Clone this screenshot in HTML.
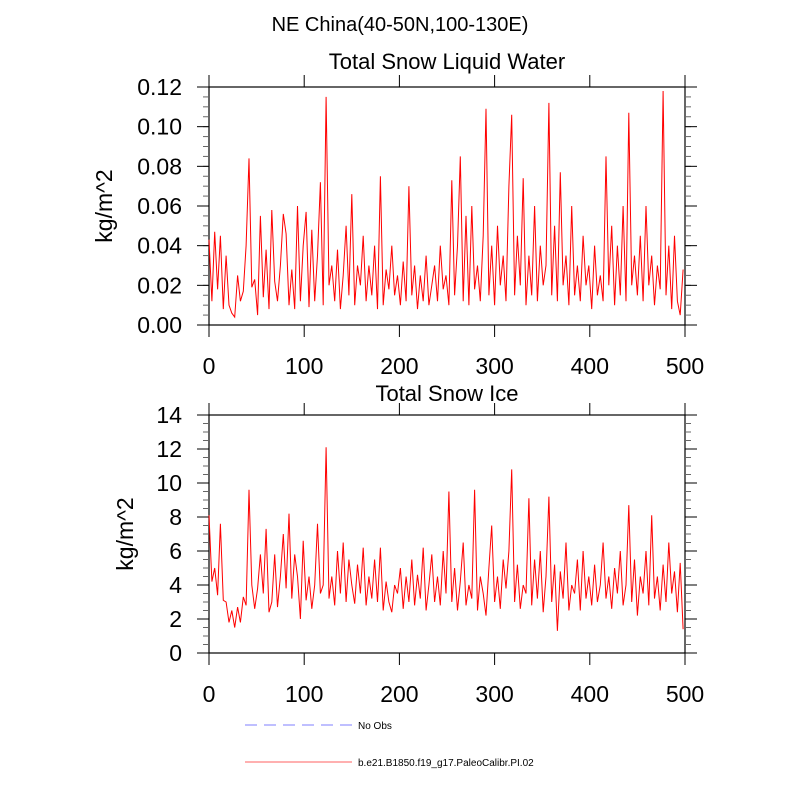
<!DOCTYPE html>
<html><head><meta charset="utf-8"><style>
body{margin:0;background:#fff;}
svg{font-family:"Liberation Sans",sans-serif;}
</style></head><body>
<svg id="chart" width="800" height="800">
<text x="400" y="31" font-size="20" text-anchor="middle">NE China(40-50N,100-130E)</text>
<text x="447" y="69" font-size="22" text-anchor="middle">Total Snow Liquid Water</text>
<text x="447" y="401" font-size="22" text-anchor="middle">Total Snow Ice</text>
<text transform="translate(112,206) rotate(-90)" font-size="23" text-anchor="middle">kg/m^2</text>
<text transform="translate(133,534) rotate(-90)" font-size="23" text-anchor="middle">kg/m^2</text>
<g>
<line x1="245" y1="725" x2="352" y2="725" stroke="#9999ff" stroke-width="1.2" stroke-dasharray="12,7"/>
<text x="358" y="729" font-size="10">No Obs</text>
<line x1="245" y1="762" x2="352" y2="762" stroke="#ff8080" stroke-width="1.2"/>
<text x="358" y="766" font-size="10">b.e21.B1850.f19_g17.PaleoCalibr.PI.02</text>
</g>
</svg>
<script>
const years=[];for(let i=0;i<167;i++)years.push(i*3);
const snowLiquid=[.043,.012,.047,.018,.045,.008,.035,.010,.006,.004,
.025,.012,.017,.040,.084,.019,.023,.005,.055,.014,
.038,.008,.058,.022,.012,.030,.056,.046,.010,.028,
.008,.060,.012,.040,.057,.009,.048,.012,.035,.072,
.010,.115,.020,.030,.012,.038,.008,.025,.050,.015,
.066,.010,.030,.020,.045,.012,.030,.015,.040,.008,
.075,.010,.028,.018,.040,.015,.025,.010,.032,.012,
.070,.015,.030,.008,.025,.012,.035,.010,.020,.030,
.012,.040,.018,.025,.010,.073,.015,.040,.085,.012,
.055,.010,.060,.018,.030,.012,.045,.109,.015,.040,
.010,.050,.020,.035,.012,.070,.106,.015,.045,.020,
.074,.010,.035,.015,.060,.012,.040,.020,.030,.112,
.015,.050,.012,.077,.020,.035,.010,.060,.015,.030,
.012,.045,.020,.030,.008,.040,.015,.025,.012,.085,
.020,.050,.010,.040,.015,.060,.012,.107,.020,.035,
.015,.045,.012,.060,.020,.035,.010,.030,.018,.118,
.015,.040,.008,.045,.012,.005,.028];
const snowIce=[8.1,4.2,5.0,3.4,7.6,3.1,3.0,1.8,2.5,1.5,
2.7,1.8,3.3,2.8,9.6,4.0,2.6,3.8,5.8,3.5,
7.3,2.4,3.0,5.8,2.7,4.5,7.0,3.8,8.2,3.2,
5.8,4.5,2.0,6.6,3.1,4.5,2.6,4.0,7.6,3.5,
4.0,12.1,3.2,4.5,2.8,6.0,3.5,6.5,3.0,5.5,
4.0,2.9,5.2,3.5,6.2,2.8,4.5,3.2,5.5,3.0,
6.2,2.5,4.2,3.0,2.4,4.0,3.5,5.0,2.6,4.5,
3.0,5.5,2.8,4.6,3.2,6.2,2.5,4.0,5.8,3.0,
4.5,2.8,6.0,3.5,9.5,3.0,5.0,2.5,4.2,6.5,
2.8,4.0,3.2,9.6,2.5,4.5,3.5,2.2,5.0,7.5,
3.0,4.5,2.6,5.5,3.8,6.0,10.8,3.0,5.2,2.6,
4.0,3.5,9.1,2.8,5.5,3.2,6.0,2.4,4.5,9.2,
3.0,5.2,1.3,4.8,3.2,6.5,2.5,4.0,3.5,5.5,
2.5,6.0,3.2,4.5,2.8,5.2,3.0,4.0,6.5,3.2,
4.5,2.6,5.0,3.5,6.0,2.8,4.0,8.7,3.0,5.5,
2.2,4.5,3.5,6.0,2.8,8.1,3.2,4.5,2.5,5.2,
3.0,6.5,3.5,4.8,2.4,5.3,1.4];
const xTicks=[0,100,200,300,400,500];
const yTicksTop=[0,0.02,0.04,0.06,0.08,0.10,0.12];
const yTicksBot=[0,2,4,6,8,10,12,14];
const NS="http://www.w3.org/2000/svg";
const svg=document.getElementById('chart');
function mk(t,a,p){const e=document.createElementNS(NS,t);for(const k in a)e.setAttribute(k,a[k]);(p||svg).appendChild(e);return e;}
function panel(name,top,bot,ymax,yt,data,dec){
  const L=209,R=685;
  const xs=v=>L+v*(R-L)/500, ys=v=>bot-v*(bot-top)/ymax;
  const g=mk('g',{});
  
  
  const fr=mk('rect',{x:L,y:top,width:R-L,height:bot-top,fill:'none',stroke:'#000','stroke-width':1.2},g);
  
  
  xTicks.forEach(v=>{
    mk('line',{x1:xs(v),x2:xs(v),y1:bot,y2:bot+12,stroke:'#000'},g);
    mk('line',{x1:xs(v),x2:xs(v),y1:top,y2:top-12,stroke:'#000'},g);
    const t=mk('text',{x:xs(v),y:bot+49,'font-size':23,'text-anchor':'middle'},g);t.textContent=v;
    
    
  });
  const step=yt[1]-yt[0];
  for(let i=0;i<(yt.length-1)*4;i++){const v=i*step/4;mk('line',{x1:L,x2:L-6,y1:ys(v),y2:ys(v),stroke:'#666'},g);mk('line',{x1:R,x2:R+6,y1:ys(v),y2:ys(v),stroke:'#666'},g);}
  yt.forEach(v=>{
    mk('line',{x1:L,x2:L-12,y1:ys(v),y2:ys(v),stroke:'#000'},g);
    mk('line',{x1:R,x2:R+12,y1:ys(v),y2:ys(v),stroke:'#000'},g);
    const t=mk('text',{x:182,y:ys(v)+8,'font-size':23,'text-anchor':'end'},g);t.textContent=v.toFixed(dec);
    
    
  });
  const pts=data.map((v,i)=>xs(years[i]).toFixed(1)+','+ys(v).toFixed(1)).join(' ');
  const pl=mk('polyline',{points:pts,fill:'none',stroke:'#ff0000','stroke-width':1},g);
  
  
}
panel('snow-liquid',87,325,0.12,yTicksTop,snowLiquid,2);
panel('snow-ice',415,653,14,yTicksBot,snowIce,0);
</script>
</body></html>
